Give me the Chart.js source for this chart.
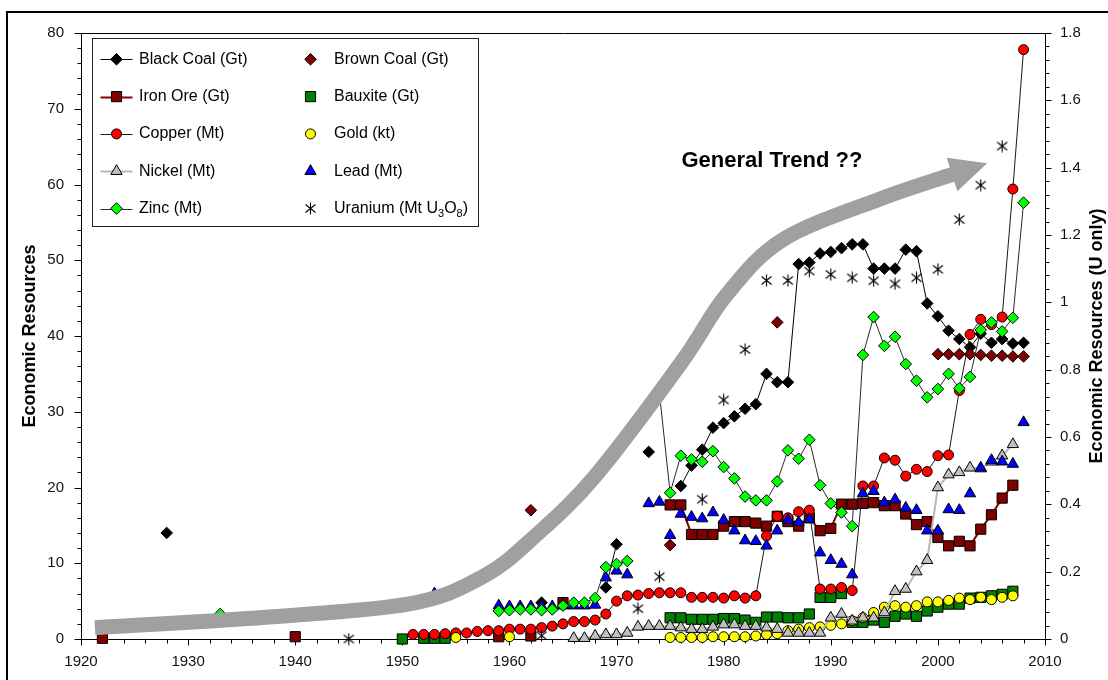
<!DOCTYPE html>
<html>
<head>
<meta charset="utf-8">
<script src="https://cdn.jsdelivr.net/npm/chart.js@4.4.1/dist/chart.umd.min.js"></script>
<style>
html,body{margin:0;padding:0;background:#ffffff;}
#wrap{position:relative;width:1108px;height:680px;overflow:hidden;}
canvas{display:block;}
</style>
</head>
<body>
<div id="wrap"><canvas id="c" width="1108" height="680"></canvas></div>
<script>
const FONT = '"Liberation Sans", Arial, Helvetica, sans-serif';

// ---------------- DATA ----------------
const seriesLabels = ['Black Coal (Gt)', 'Brown Coal (Gt)', 'Iron Ore (Gt)', 'Bauxite (Gt)', 'Copper (Mt)',
  'Gold (kt)', 'Nickel (Mt)', 'Lead (Mt)', 'Zinc (Mt)', 'Uranium (Mt U3O8)'];

const xTickLabels = [1920, 1930, 1940, 1950, 1960, 1970, 1980, 1990, 2000, 2010];
const yTickLabels = [0, 10, 20, 30, 40, 50, 60, 70, 80];
const y1TickLabels = [0, 0.2, 0.4, 0.6, 0.8, 1, 1.2, 1.4, 1.6, 1.8];
const leftTitle = 'Economic Resources';
const rightTitle = 'Economic Resources (U only)';

const blackCoalYears = [1922, 1928, 1963, 1969, 1970, 1973, 1976, 1977, 1978, 1979, 1980, 1981, 1982, 1983, 1984, 1985, 1986, 1987, 1988, 1989, 1990, 1991, 1992, 1993, 1994, 1995, 1996, 1997, 1998, 1999, 2000, 2001, 2002, 2003, 2004, 2005, 2006, 2007, 2008];
const blackCoalValues = [1.6, 14.0, 4.8, 6.8, 12.5, 24.7, 20.2, 22.9, 25.0, 27.9, 28.5, 29.4, 30.4, 31.0, 35.0, 33.9, 33.9, 49.5, 49.7, 50.9, 51.1, 51.6, 52.1, 52.1, 48.9, 48.9, 48.9, 51.4, 51.2, 44.3, 42.6, 40.7, 39.6, 38.5, 40.3, 39.1, 39.6, 39.0, 39.1];

const brownCoalYears = [1962, 1975, 1985, 2000, 2001, 2002, 2003, 2004, 2005, 2006, 2007, 2008];
const brownCoalValues = [17.0, 12.4, 41.8, 37.6, 37.6, 37.6, 37.6, 37.5, 37.4, 37.4, 37.3, 37.3];

const ironOreYears = [1922, 1940, 1959, 1962, 1965, 1975, 1976, 1977, 1978, 1979, 1980, 1981, 1982, 1983, 1984, 1985, 1986, 1987, 1988, 1989, 1990, 1991, 1992, 1993, 1994, 1995, 1996, 1997, 1998, 1999, 2000, 2001, 2002, 2003, 2004, 2005, 2006, 2007];
const ironOreValues = [0.1, 0.3, 0.3, 0.4, 4.8, 17.7, 17.7, 13.8, 13.8, 13.8, 14.9, 15.5, 15.5, 15.3, 14.9, 16.2, 15.5, 14.9, 16.0, 14.3, 14.6, 17.8, 17.8, 17.9, 18.0, 17.6, 17.6, 16.5, 15.1, 15.5, 13.4, 12.3, 12.9, 12.3, 14.5, 16.4, 18.6, 20.3];

const bauxiteYears = [1950, 1952, 1953, 1954, 1975, 1976, 1977, 1978, 1979, 1980, 1981, 1982, 1983, 1984, 1985, 1986, 1987, 1988, 1989, 1990, 1991, 1992, 1993, 1994, 1995, 1996, 1997, 1998, 1999, 2000, 2001, 2002, 2003, 2004, 2005, 2006, 2007];
const bauxiteValues = [0.0, 0.1, 0.1, 0.1, 2.8, 2.8, 2.6, 2.6, 2.6, 2.7, 2.7, 2.5, 2.2, 2.9, 2.9, 2.8, 2.8, 3.3, 5.5, 5.5, 6.0, 2.2, 2.2, 2.5, 2.2, 3.0, 3.3, 3.0, 3.7, 4.2, 4.6, 4.6, 5.4, 5.5, 5.7, 5.9, 6.3];

const copperYears = [1951, 1952, 1953, 1954, 1955, 1956, 1957, 1958, 1959, 1960, 1961, 1962, 1963, 1964, 1965, 1966, 1967, 1968, 1969, 1970, 1971, 1972, 1973, 1974, 1975, 1976, 1977, 1978, 1979, 1980, 1981, 1982, 1983, 1984, 1985, 1986, 1987, 1988, 1989, 1990, 1991, 1992, 1993, 1994, 1995, 1996, 1997, 1998, 1999, 2000, 2001, 2002, 2003, 2004, 2005, 2006, 2007, 2008];
const copperValues = [0.6, 0.6, 0.6, 0.7, 0.8, 0.8, 1.0, 1.1, 1.1, 1.3, 1.3, 1.3, 1.5, 1.7, 2.0, 2.3, 2.3, 2.5, 3.3, 5.0, 5.7, 5.8, 6.0, 6.1, 6.1, 6.1, 5.5, 5.5, 5.5, 5.4, 5.7, 5.4, 5.7, 13.6, 16.2, 16.0, 16.8, 17.0, 6.6, 6.6, 6.8, 6.4, 20.2, 20.2, 23.9, 23.6, 21.5, 22.4, 22.1, 24.2, 24.3, 32.8, 40.2, 42.2, 41.5, 42.5, 59.4, 77.8];

const goldYears = [1955, 1960, 1975, 1976, 1977, 1978, 1979, 1980, 1981, 1982, 1983, 1984, 1985, 1986, 1987, 1988, 1989, 1990, 1991, 1992, 1993, 1994, 1995, 1996, 1997, 1998, 1999, 2000, 2001, 2002, 2003, 2004, 2005, 2006, 2007];
const goldValues = [0.2, 0.3, 0.2, 0.2, 0.2, 0.2, 0.3, 0.3, 0.3, 0.3, 0.4, 0.6, 0.7, 1.1, 1.3, 1.5, 1.6, 1.8, 2.0, 2.4, 2.8, 3.5, 4.2, 4.4, 4.2, 4.4, 4.9, 4.9, 5.1, 5.4, 5.2, 5.5, 5.2, 5.5, 5.7];

const nickelYears = [1966, 1967, 1968, 1969, 1970, 1971, 1972, 1973, 1974, 1975, 1976, 1977, 1978, 1979, 1980, 1981, 1982, 1983, 1984, 1985, 1986, 1987, 1988, 1989, 1990, 1991, 1992, 1993, 1994, 1995, 1996, 1997, 1998, 1999, 2000, 2001, 2002, 2003, 2004, 2005, 2006, 2007];
const nickelValues = [0.1, 0.1, 0.4, 0.6, 0.6, 0.8, 1.6, 1.7, 1.7, 1.7, 1.5, 1.3, 1.3, 1.6, 1.9, 1.9, 1.7, 1.7, 1.5, 1.3, 0.8, 0.8, 0.8, 0.8, 2.8, 3.3, 2.4, 2.8, 2.8, 3.5, 6.3, 6.6, 8.9, 10.4, 20.0, 21.7, 22.0, 22.6, 22.5, 23.4, 24.2, 25.7];

const leadYears = [1953, 1959, 1960, 1961, 1962, 1963, 1964, 1965, 1966, 1967, 1968, 1969, 1970, 1971, 1973, 1974, 1975, 1976, 1977, 1978, 1979, 1980, 1981, 1982, 1983, 1984, 1985, 1986, 1987, 1988, 1989, 1990, 1991, 1992, 1993, 1994, 1995, 1996, 1997, 1998, 1999, 2000, 2001, 2002, 2003, 2004, 2005, 2006, 2007, 2008];
const leadValues = [6.0, 4.4, 4.3, 4.3, 4.3, 4.3, 4.3, 4.4, 4.4, 4.4, 4.5, 8.1, 9.0, 8.5, 17.9, 18.1, 13.7, 16.5, 16.1, 15.9, 16.7, 15.7, 14.3, 13.0, 12.9, 12.3, 14.3, 15.7, 15.4, 15.8, 11.4, 10.4, 9.9, 8.5, 19.2, 19.5, 18.0, 18.4, 17.3, 17.0, 14.3, 14.3, 17.1, 17.0, 19.2, 22.6, 23.6, 23.4, 23.1, 28.6];

const zincYears = [1933, 1959, 1960, 1961, 1962, 1963, 1964, 1965, 1966, 1967, 1968, 1969, 1970, 1971, 1974, 1975, 1976, 1977, 1978, 1979, 1980, 1981, 1982, 1983, 1984, 1985, 1986, 1987, 1988, 1989, 1990, 1991, 1992, 1993, 1994, 1995, 1996, 1997, 1998, 1999, 2000, 2001, 2002, 2003, 2004, 2005, 2006, 2007, 2008];
const zincValues = [3.3, 3.7, 3.8, 3.9, 3.9, 3.8, 3.9, 4.4, 4.8, 4.8, 5.4, 9.5, 9.9, 10.3, 32.5, 19.3, 24.2, 23.7, 23.4, 24.8, 22.7, 21.2, 18.8, 18.3, 18.3, 20.8, 24.9, 23.8, 26.3, 20.3, 17.9, 16.7, 14.9, 37.5, 42.5, 38.7, 39.9, 36.3, 34.1, 31.9, 33.0, 35.0, 33.1, 34.6, 40.8, 41.8, 40.6, 42.4, 57.6];

// Uranium is read on the right-hand axis (Mt U3O8)
const uraniumYears = [1945, 1963, 1972, 1974, 1978, 1980, 1982, 1984, 1986, 1988, 1990, 1992, 1994, 1996, 1998, 2000, 2002, 2004, 2006];
const uraniumValues = [0.0, 0.01, 0.09, 0.185, 0.415, 0.71, 0.86, 1.065, 1.065, 1.093, 1.083, 1.073, 1.064, 1.055, 1.073, 1.098, 1.246, 1.348, 1.464];

// annotation: hand-drawn "general trend" arrow, in (year, value) units
const trendPath = [[1921.3, 1.5], [1935.5, 2.7], [1950.5, 4.6], [1957.6, 8.3], [1962.4, 13.6], [1968.0, 21.5], [1976.0, 36.4], [1980.2, 45.3], [1985.5, 52.7], [1994.6, 58.1], [2001.5, 61.4]];
const trendTip = [2004.6, 62.8];
const trendLabel = 'General Trend ??';
const trendLabelAt = [1984.5, 63.1];

// ---------------- STYLE ----------------
function asteriskCanvas() {
  const c = document.createElement('canvas');
  c.width = 13; c.height = 13;
  const g = c.getContext('2d');
  g.strokeStyle = '#000'; g.lineWidth = 1.1;
  g.beginPath();
  g.moveTo(6.5, 0.5); g.lineTo(6.5, 12.5);
  g.moveTo(1.5, 2.5); g.lineTo(11.5, 10.5);
  g.moveTo(11.5, 2.5); g.lineTo(1.5, 10.5);
  g.stroke();
  return c;
}
const AST = asteriskCanvas();

const seriesYears = [blackCoalYears, brownCoalYears, ironOreYears, bauxiteYears, copperYears, goldYears, nickelYears, leadYears, zincYears, uraniumYears];
const seriesValues = [blackCoalValues, brownCoalValues, ironOreValues, bauxiteValues, copperValues, goldValues, nickelValues, leadValues, zincValues, uraniumValues];
const seriesStyles = [
  {style: 'rectRot', r: 5.8, fill: '#000000', line: '#000000', lw: 1},
  {style: 'rectRot', r: 5.8, fill: '#800000', line: null},
  {style: 'rect', r: 7.2, fill: '#800000', line: '#800000', lw: 2},
  {style: 'rect', r: 7.2, fill: '#008000', line: null},
  {style: 'circle', r: 5, fill: '#ff0000', line: '#1a1a1a', lw: 1},
  {style: 'circle', r: 5, fill: '#ffff00', line: null},
  {style: 'triangle', r: 6.5, fill: '#c0c0c0', line: '#b8b8b8', lw: 2},
  {style: 'triangle', r: 6.5, fill: '#0000ff', line: null},
  {style: 'rectRot', r: 5.8, fill: '#00ff00', line: '#2a2a2a', lw: 1},
  {style: AST, r: 6, fill: '#000000', line: null}
];

function toPoints(years, values, breakGaps) {
  const out = [];
  for (let i = 0; i < years.length; i++) {
    if (breakGaps && i > 0 && years[i] - years[i - 1] > 1) {
      out.push({x: (years[i] + years[i - 1]) / 2, y: null});
    }
    out.push({x: years[i], y: values[i]});
  }
  return out;
}

const datasets = seriesLabels.map((label, i) => {
  const st = seriesStyles[i];
  return {
    label: label,
    data: toPoints(seriesYears[i], seriesValues[i], !!st.line),
    yAxisID: i === 9 ? 'y1' : 'y',
    showLine: !!st.line,
    borderColor: st.line || st.fill,
    borderWidth: st.line ? st.lw : 0,
    pointStyle: st.style,
    pointRadius: st.r,
    pointHoverRadius: st.r,
    pointBackgroundColor: st.fill,
    pointBorderColor: '#000000',
    pointBorderWidth: 1,
    spanGaps: false,
    clip: false,
    order: 10 - i
  };
});

// ---------- custom drawing helpers ----------
function markerPath(ctx, style, r, x, y) {
  ctx.beginPath();
  if (style === 'rectRot') {
    ctx.moveTo(x - r, y); ctx.lineTo(x, y - r); ctx.lineTo(x + r, y); ctx.lineTo(x, y + r); ctx.closePath();
  } else if (style === 'rect') {
    const s = Math.SQRT1_2 * r; ctx.rect(x - s, y - s, 2 * s, 2 * s);
  } else if (style === 'circle') {
    ctx.arc(x, y, r, 0, Math.PI * 2); ctx.closePath();
  } else if (style === 'triangle') {
    ctx.moveTo(x, y - r);
    ctx.lineTo(x + Math.sin(2 * Math.PI / 3) * r, y - Math.cos(2 * Math.PI / 3) * r);
    ctx.lineTo(x + Math.sin(4 * Math.PI / 3) * r, y - Math.cos(4 * Math.PI / 3) * r);
    ctx.closePath();
  }
}

const decor = {
  id: 'decor',
  beforeDatasetsDraw(chart) {
    const {ctx, chartArea: {left, right, top, bottom}, scales: {x, y, y1}} = chart;
    ctx.save();
    ctx.strokeStyle = '#000'; ctx.lineWidth = 1;
    const L = Math.round(left) + 0.5, R = Math.round(right) + 0.5, T = Math.round(top) + 0.5, B = Math.round(bottom) + 0.5;
    ctx.beginPath();
    ctx.moveTo(L, T); ctx.lineTo(R, T); ctx.lineTo(R, B); ctx.lineTo(L, B); ctx.closePath();
    ctx.stroke();
    ctx.beginPath();
    for (let k = 0; k <= 45; k++) {
      const px = Math.round(x.getPixelForValue(1920 + 2 * k)) + 0.5;
      const len = (k % 5 === 0) ? 6 : 4;
      ctx.moveTo(px, B); ctx.lineTo(px, B + len);
    }
    for (let k = 0; k <= 40; k++) {
      const py = Math.round(y.getPixelForValue(2 * k)) + 0.5;
      const len = (k % 5 === 0) ? 7 : 4;
      ctx.moveTo(L, py); ctx.lineTo(L - len, py);
    }
    for (let k = 0; k <= 45; k++) {
      const py = Math.round(y1.getPixelForValue(0.04 * k)) + 0.5;
      const len = (k % 5 === 0) ? 6 : 4;
      ctx.moveTo(R, py); ctx.lineTo(R + len, py);
    }
    ctx.stroke();
    ctx.restore();
  },
  afterDatasetsDraw(chart) {
    const {ctx, scales: {x, y}} = chart;
    ctx.save();
    const pts = trendPath.map(p => [x.getPixelForValue(p[0]), y.getPixelForValue(p[1])]);
    ctx.beginPath();
    ctx.moveTo(pts[0][0], pts[0][1]);
    for (let i = 0; i < pts.length - 1; i++) {
      const p0 = pts[i - 1] || pts[i], p1 = pts[i], p2 = pts[i + 1], p3 = pts[i + 2] || pts[i + 1];
      ctx.bezierCurveTo(p1[0] + (p2[0] - p0[0]) / 6, p1[1] + (p2[1] - p0[1]) / 6,
                        p2[0] - (p3[0] - p1[0]) / 6, p2[1] - (p3[1] - p1[1]) / 6,
                        p2[0], p2[1]);
    }
    ctx.strokeStyle = '#a0a0a0'; ctx.lineWidth = 15; ctx.lineCap = 'butt'; ctx.lineJoin = 'round';
    ctx.stroke();
    const base = pts[pts.length - 1];
    const tip = [x.getPixelForValue(trendTip[0]), y.getPixelForValue(trendTip[1])];
    const dx = tip[0] - base[0], dy = tip[1] - base[1], len = Math.hypot(dx, dy);
    const nx = -dy / len, ny = dx / len, half = 17.5;
    const bx = base[0] - dx / len * 2, by = base[1] - dy / len * 2;
    ctx.beginPath();
    ctx.moveTo(tip[0], tip[1]);
    ctx.lineTo(bx + nx * half, by + ny * half);
    ctx.lineTo(bx - nx * half, by - ny * half);
    ctx.closePath();
    ctx.fillStyle = '#a0a0a0';
    ctx.fill();
    ctx.fillStyle = '#000';
    ctx.font = 'bold 22px ' + FONT;
    ctx.textAlign = 'center'; ctx.textBaseline = 'middle';
    ctx.fillText(trendLabel, x.getPixelForValue(trendLabelAt[0]), y.getPixelForValue(trendLabelAt[1]));
    ctx.restore();
  },
  afterDraw(chart) {
    const ctx = chart.ctx;
    const {chartArea: {top, bottom}} = chart;
    ctx.save();
    // axis titles (both read bottom-to-top)
    ctx.fillStyle = '#000';
    ctx.font = 'bold 18px ' + FONT;
    ctx.textAlign = 'center'; ctx.textBaseline = 'middle';
    [[30, leftTitle], [1097, rightTitle]].forEach(([tx, t]) => {
      ctx.save();
      ctx.translate(tx, (top + bottom) / 2);
      ctx.rotate(-Math.PI / 2);
      ctx.fillText(t, 0, 0);
      ctx.restore();
    });
    // outer frame (top & left visible)
    ctx.strokeStyle = '#000'; ctx.lineWidth = 2;
    ctx.strokeRect(7, 12, 1120, 700);
    // legend box
    ctx.fillStyle = '#fff';
    ctx.fillRect(92, 38, 387, 189);
    ctx.strokeStyle = '#222'; ctx.lineWidth = 1;
    ctx.strokeRect(92.5, 38.5, 386, 188);
    const rowY = [59.3, 96.6, 133.9, 171.2, 208.5];
    const colMarker = [116.5, 310.5];
    const colText = [139, 334];
    ctx.font = '16px ' + FONT;
    ctx.textBaseline = 'middle'; ctx.textAlign = 'left';
    chart.data.datasets.forEach((ds, i) => {
      const st = seriesStyles[i];
      const col = i % 2, row = Math.floor(i / 2);
      const cy = rowY[row], cx = colMarker[col];
      if (st.line) {
        ctx.strokeStyle = st.line; ctx.lineWidth = st.lw;
        ctx.beginPath(); ctx.moveTo(cx - 16, Math.round(cy) + 0.5); ctx.lineTo(cx + 16, Math.round(cy) + 0.5); ctx.stroke();
      }
      if (typeof st.style === 'string') {
        markerPath(ctx, st.style, st.r, cx, cy);
        ctx.fillStyle = st.fill; ctx.fill();
        ctx.strokeStyle = '#000'; ctx.lineWidth = 1; ctx.stroke();
      } else {
        ctx.drawImage(st.style, Math.round(cx - st.style.width / 2), Math.round(cy - st.style.height / 2));
      }
      ctx.fillStyle = '#000';
      const tx = colText[col];
      if (i === 9) {
        let px = tx;
        const parts = [['Uranium (Mt U', 0], ['3', 1], ['O', 0], ['8', 1], [')', 0]];
        parts.forEach(([t, sub]) => {
          ctx.font = (sub ? '11px ' : '16px ') + FONT;
          ctx.fillText(t, px, cy + (sub ? 5 : 0));
          px += ctx.measureText(t).width;
        });
        ctx.font = '16px ' + FONT;
      } else {
        ctx.fillText(ds.label, tx, cy);
      }
    });
    ctx.restore();
  }
};

const tickFont = {family: FONT, size: 15};
new Chart(document.getElementById('c'), {
  type: 'scatter',
  data: {datasets: datasets},
  options: {
    responsive: false,
    animation: false,
    devicePixelRatio: 1,
    events: [],
    layout: {padding: {top: 33, left: 0, right: 0, bottom: 0}},
    plugins: {legend: {display: false}, tooltip: {enabled: false}, title: {display: false}},
    scales: {
      x: {
        type: 'linear', position: 'bottom', min: xTickLabels[0], max: xTickLabels[xTickLabels.length - 1],
        grid: {display: false, drawTicks: false}, border: {display: false},
        afterBuildTicks: s => { s.ticks = xTickLabels.map(v => ({value: v})); },
        ticks: {padding: 14, color: '#111', font: tickFont, maxRotation: 0, autoSkip: false, callback: v => String(v)},
        afterFit: s => { s.height = 41; }
      },
      y: {
        type: 'linear', position: 'left', min: 0, max: 80,
        grid: {display: false, drawTicks: false}, border: {display: false},
        afterBuildTicks: s => { s.ticks = yTickLabels.map(v => ({value: v})); },
        ticks: {padding: 17, color: '#111', font: tickFont, callback: v => String(v)},
        afterFit: s => { s.width = 81; }
      },
      y1: {
        type: 'linear', position: 'right', min: 0, max: 1.8,
        grid: {display: false, drawTicks: false}, border: {display: false},
        afterBuildTicks: s => { s.ticks = y1TickLabels.map(v => ({value: v})); },
        ticks: {padding: 15, color: '#111', font: tickFont, callback: v => String(Math.round(v * 10) / 10)},
        afterFit: s => { s.width = 63; }
      }
    }
  },
  plugins: [decor]
});
</script>
</body>
</html>
